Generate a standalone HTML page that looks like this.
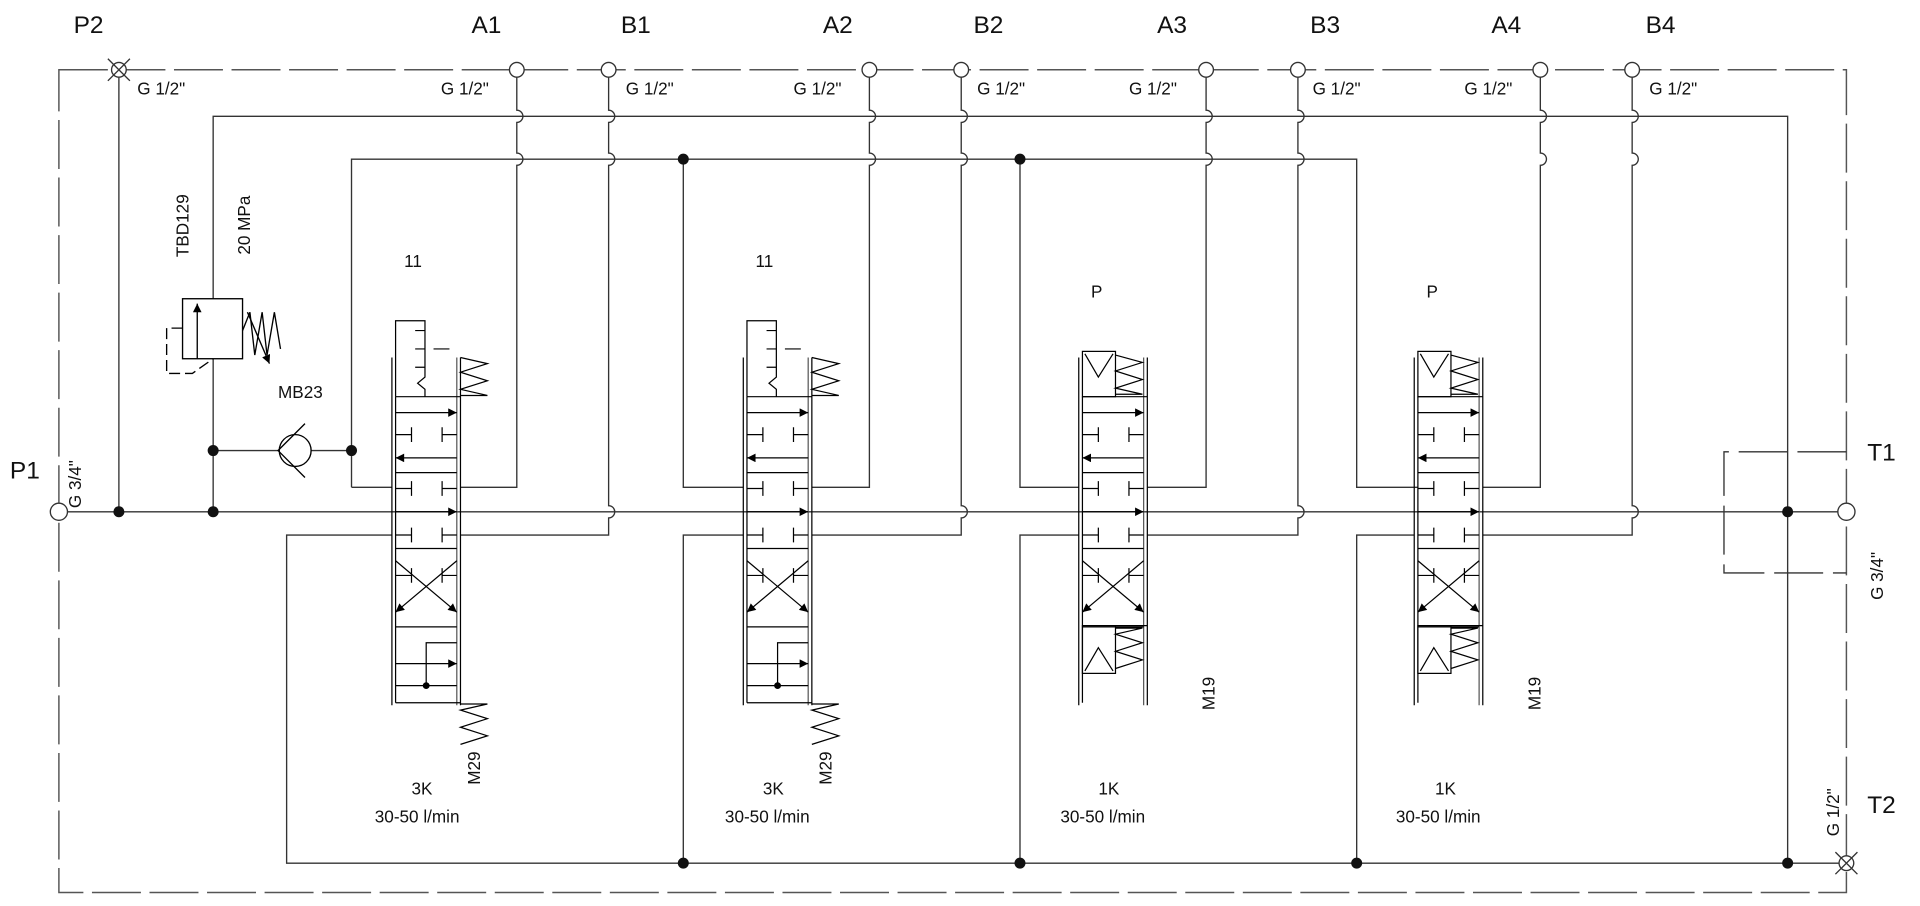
<!DOCTYPE html>
<html><head><meta charset="utf-8"><style>
html,body{margin:0;padding:0;background:#fff;}
svg{display:block;}
text{font-family:"Liberation Sans",Arial,sans-serif;fill:#111;}
</style></head><body>
<svg width="1920" height="906" viewBox="0 0 1568 740" xmlns="http://www.w3.org/2000/svg">
<defs>
<marker id="ah" viewBox="0 0 10 10" refX="10" refY="5" markerWidth="10" markerHeight="7" markerUnits="userSpaceOnUse" orient="auto"><path d="M0,0 L10,5 L0,10 z" fill="#000"/></marker>
<g id="core">
 <line x1="320" y1="292" x2="320" y2="576" stroke="#000"/>
 <line x1="376" y1="292" x2="376" y2="576" stroke="#000"/>
 <line x1="373" y1="292" x2="373" y2="576" stroke="#555"/>
 <line x1="323" y1="324" x2="376" y2="324" stroke="#000"/>
 <line x1="323" y1="324" x2="323" y2="574" stroke="#000"/>
 <line x1="323" y1="386" x2="373" y2="386" stroke="#000"/>
 <line x1="323" y1="448" x2="373" y2="448" stroke="#000"/>
 <line x1="323" y1="512" x2="373" y2="512" stroke="#000"/>
 <line x1="323" y1="337" x2="373" y2="337" stroke="#000" marker-end="url(#ah)"/>
 <path d="M323 355H336M336 349V361M361 349V361M361 355H373" stroke="#000" fill="none"/>
 <line x1="373" y1="374" x2="323" y2="374" stroke="#000" marker-end="url(#ah)"/>
 <path d="M323 399H336M336 393V405M361 393V405M361 399H373" stroke="#000" fill="none"/>
 <path d="M323 437H336M336 431V443M361 431V443M361 437H373" stroke="#000" fill="none"/>
 <line x1="323" y1="418" x2="373" y2="418" stroke="#000" marker-end="url(#ah)"/>
 <path d="M323 470H336M336 464V476M361 464V476M361 470H373" stroke="#000" fill="none"/>
 <line x1="323" y1="458" x2="373" y2="500" stroke="#000" marker-end="url(#ah)"/>
 <line x1="373" y1="458" x2="323" y2="500" stroke="#000" marker-end="url(#ah)"/>
</g>
<g id="v4">
 <use href="#core"/>
 <line x1="323" y1="574" x2="376" y2="574" stroke="#000"/>
 <path d="M348 560V525H373" stroke="#000" fill="none"/>
 <line x1="323" y1="542" x2="373" y2="542" stroke="#000" marker-end="url(#ah)"/>
 <line x1="323" y1="560" x2="373" y2="560" stroke="#000"/>
 <circle cx="348" cy="560" r="2.8" fill="#000"/>
 <path d="M323 324V262H347V308L341 313L347 318V324M339 270H347M339 285H347M339 300H347M354 285H367" stroke="#000" fill="none"/>
 <path d="M376 323H398L376 318L398 311L376 304L398 297L376 292" stroke="#000" fill="none"/>
 <path d="M376 575H398L376 580L398 587L376 594L398 601L376 608" stroke="#000" fill="none"/>
</g>
<g id="v3">
 <use href="#core"/>
 <line x1="323" y1="511" x2="376" y2="511" stroke="#000"/>
 <rect x="323" y="287" width="27" height="37" fill="none" stroke="#000"/>
 <path d="M325 289L336 308L348 289" fill="none" stroke="#000"/>
 <rect x="323" y="511" width="27" height="39" fill="none" stroke="#000"/>
 <path d="M325 548L336 529L348 548" fill="none" stroke="#000"/>
 <path d="M350 322H372L350 317L372 310L350 303L372 296L350 290" stroke="#000" fill="none"/>
 <path d="M350 513H372L350 518L372 525L350 532L372 539L350 546" stroke="#000" fill="none"/>
</g>
</defs>

<!-- border dashed -->
<rect x="48" y="57" width="1460" height="672" fill="none" stroke="#555" stroke-width="1.2" stroke-dasharray="40,7"/>

<g stroke="#333" stroke-width="1.1" fill="none">
 <!-- main line -->
 <line x1="48" y1="418" x2="1508" y2="418"/>
 <!-- P2 drop -->
 <line x1="97" y1="57" x2="97" y2="418"/>
 <!-- y=95 line -->
 <path d="M174 244V95H1460V705"/>
 <!-- y=130 line -->
 <path d="M287 398V130H1108V398H1158"/>
 <path d="M287 398H320"/>
 <path d="M558 130V398H607"/>
 <path d="M833 130V398H881"/>
 <!-- tank returns -->
 <path d="M320 437H234V705H1508"/>
 <path d="M607 437H558V705"/>
 <path d="M881 437H833V705"/>
 <path d="M1155 437H1108V705"/>
 <!-- relief -->
 <path d="M174 293V418"/>
 <path d="M174 368H227"/>
 <path d="M254 368H287"/>
 <!-- A/B verticals with bumps -->
 <path d="M422 57V90a5 5 0 0 1 0 10V125a5 5 0 0 1 0 10V398H376"/>
 <path d="M497 57V90a5 5 0 0 1 0 10V125a5 5 0 0 1 0 10V413a5 5 0 0 1 0 10V437H376"/>
 <path d="M710 57V90a5 5 0 0 1 0 10V125a5 5 0 0 1 0 10V398H663"/>
 <path d="M785 57V90a5 5 0 0 1 0 10V125a5 5 0 0 1 0 10V413a5 5 0 0 1 0 10V437H663"/>
 <path d="M985 57V90a5 5 0 0 1 0 10V125a5 5 0 0 1 0 10V398H937"/>
 <path d="M1060 57V90a5 5 0 0 1 0 10V125a5 5 0 0 1 0 10V413a5 5 0 0 1 0 10V437H937"/>
 <path d="M1258 57V90a5 5 0 0 1 0 10V125a5 5 0 0 1 0 10V398H1211"/>
 <path d="M1333 57V90a5 5 0 0 1 0 10V125a5 5 0 0 1 0 10V413a5 5 0 0 1 0 10V437H1211"/>
 <!-- T1 dashed box -->
 <path d="M1508 369H1408V468H1508" stroke-dasharray="40,8"/>
</g>

<!-- valves -->
<use href="#v4"/>
<use href="#v4" transform="translate(287,0)"/>
<use href="#v3" transform="translate(561,0)"/>
<use href="#v3" transform="translate(835,0)"/>

<!-- relief valve -->
<g stroke="#000" fill="none" stroke-width="1.1">
 <rect x="149" y="244" width="49" height="49"/>
 <line x1="161" y1="293" x2="161" y2="248" marker-end="url(#ah)"/>
 <path d="M149 268H136V305H157L174 293" stroke-dasharray="9,4"/>
 <path d="M198 270L204 255L208 290L214 255L218 290L224 255L229 285"/>
 <line x1="202" y1="255" x2="220" y2="297" marker-end="url(#ah)"/>
 <circle cx="241" cy="368" r="13"/>
 <path d="M249 346L227 368L249 390"/>
</g>

<!-- dots -->
<g fill="#111">
 <circle cx="97" cy="418" r="4.5"/><circle cx="174" cy="418" r="4.5"/>
 <circle cx="174" cy="368" r="4.5"/><circle cx="287" cy="368" r="4.5"/>
 <circle cx="558" cy="130" r="4.5"/><circle cx="833" cy="130" r="4.5"/>
 <circle cx="558" cy="705" r="4.5"/><circle cx="833" cy="705" r="4.5"/>
 <circle cx="1108" cy="705" r="4.5"/><circle cx="1460" cy="705" r="4.5"/>
 <circle cx="1460" cy="418" r="4.5"/>
</g>

<!-- ports -->
<g fill="#fff" stroke="#333" stroke-width="1.1">
 <circle cx="48" cy="418" r="7"/><circle cx="1508" cy="418" r="7"/>
 <circle cx="422" cy="57" r="6"/><circle cx="497" cy="57" r="6"/>
 <circle cx="710" cy="57" r="6"/><circle cx="785" cy="57" r="6"/>
 <circle cx="985" cy="57" r="6"/><circle cx="1060" cy="57" r="6"/>
 <circle cx="1258" cy="57" r="6"/><circle cx="1333" cy="57" r="6"/>
 <circle cx="97" cy="57" r="6"/><circle cx="1508" cy="705" r="6"/>
</g>
<g stroke="#333" stroke-width="1.1">
 <path d="M88 48L106 66M106 48L88 66"/>
 <path d="M1499 696L1517 714M1517 696L1499 714"/>
</g>

<!-- labels -->
<g font-size="20">
 <text x="60" y="27">P2</text>
 <text x="385" y="27">A1</text><text x="507" y="27">B1</text>
 <text x="672" y="27">A2</text><text x="795" y="27">B2</text>
 <text x="945" y="27">A3</text><text x="1070" y="27">B3</text>
 <text x="1218" y="27">A4</text><text x="1344" y="27">B4</text>
 <text x="8" y="391">P1</text>
 <text x="1525" y="376">T1</text>
 <text x="1525" y="664">T2</text>
</g>
<g font-size="14">
 <text x="112" y="77">G 1/2"</text>
 <text x="360" y="77">G 1/2"</text><text x="511" y="77">G 1/2"</text>
 <text x="648" y="77">G 1/2"</text><text x="798" y="77">G 1/2"</text>
 <text x="922" y="77">G 1/2"</text><text x="1072" y="77">G 1/2"</text>
 <text x="1196" y="77">G 1/2"</text><text x="1347" y="77">G 1/2"</text>
 <text transform="translate(66,415) rotate(-90)">G 3/4"</text>
 <text transform="translate(1538,490) rotate(-90)">G 3/4"</text>
 <text transform="translate(1502,683) rotate(-90)">G 1/2"</text>
 <text transform="translate(154,210) rotate(-90)">TBD129</text>
 <text transform="translate(204,208) rotate(-90)">20 MPa</text>
 <text x="227" y="325">MB23</text>
 <text x="330" y="218">11</text><text x="617" y="218">11</text>
 <text x="891" y="243">P</text><text x="1165" y="243">P</text>
 <text x="336" y="649">3K</text><text x="623" y="649">3K</text>
 <text x="897" y="649">1K</text><text x="1172" y="649">1K</text>
 <text x="306" y="672">30-50 l/min</text><text x="592" y="672">30-50 l/min</text>
 <text x="866" y="672">30-50 l/min</text><text x="1140" y="672">30-50 l/min</text>
 <text transform="translate(392,641) rotate(-90)">M29</text>
 <text transform="translate(679,641) rotate(-90)">M29</text>
 <text transform="translate(992,580) rotate(-90)">M19</text>
 <text transform="translate(1258,580) rotate(-90)">M19</text>
</g>
<!-- bottom springs for valves 1,2 drawn at right -->
</svg>
</body></html>
